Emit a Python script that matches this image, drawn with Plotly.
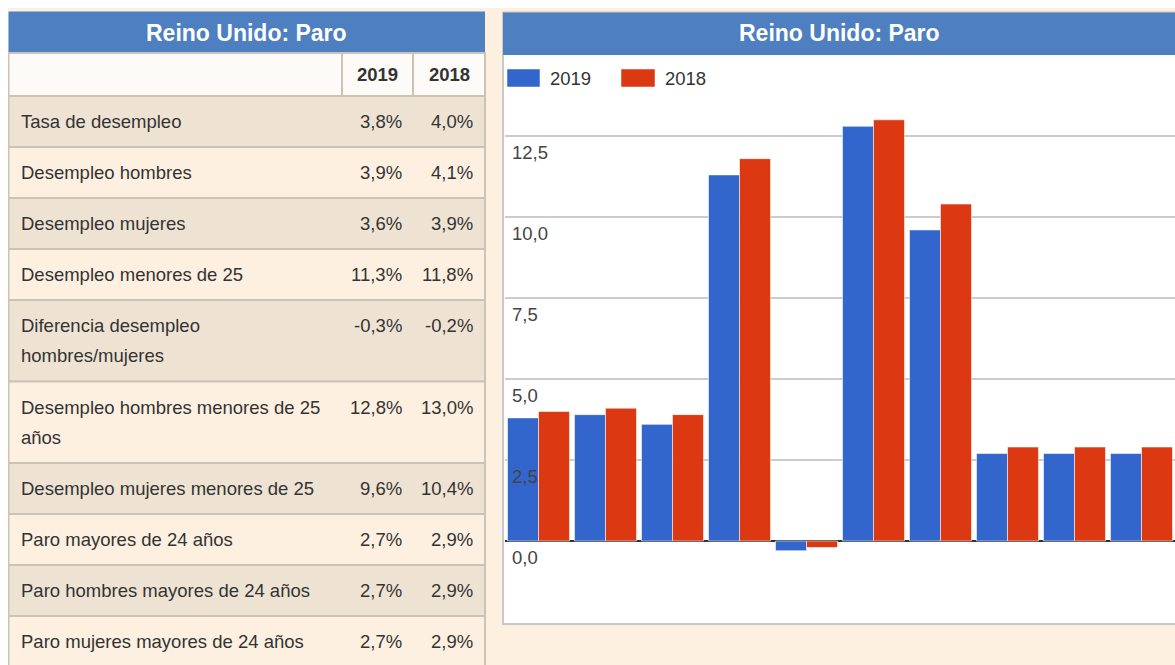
import plotly.graph_objects as go

# ---- data ----
title_text = "Reino Unido: Paro"
years = ["2019", "2018"]
row_labels = [
    "Tasa de desempleo",
    "Desempleo hombres",
    "Desempleo mujeres",
    "Desempleo menores de 25",
    "Diferencia desempleo<br>hombres/mujeres",
    "Desempleo hombres menores de 25<br>años",
    "Desempleo mujeres menores de 25",
    "Paro mayores de 24 años",
    "Paro hombres mayores de 24 años",
    "Paro mujeres mayores de 24 años",
]
vals_2019 = [3.8, 3.9, 3.6, 11.3, -0.3, 12.8, 9.6, 2.7, 2.7, 2.7]
vals_2018 = [4.0, 4.1, 3.9, 11.8, -0.2, 13.0, 10.4, 2.9, 2.9, 2.9]
y_ticks = [0, 2.5, 5.0, 7.5, 10.0, 12.5]

# ---- styling ----
OFF = 8                      # page body margin (left/top)
W, H = 1175 - OFF, 665 - OFF
BG = "#FDF0E0"
HEAD_BLUE = "#4E7FC0"
BEIGE = "#EEE3D3"
LINE = "#CBC3B8"
TXT = "#333333"
BLUE = "#3366CC"
RED = "#DC3912"
FONT = "Liberation Sans, Arial, sans-serif"
FS = 18.5


# screen pixel -> paper coords
def px(x):
    return (x - OFF) / W


def py(y):
    return 1 - (y - OFF) / H


def fmt(v):
    return f"{v:.1f}".replace(".", ",")


def note(x, y, text, size=FS, color=TXT, xanchor="left"):
    return dict(x=px(x), y=py(y), xref="paper", yref="paper", text=text, showarrow=False,
                font=dict(family=FONT, size=size, color=color), xanchor=xanchor, yanchor="middle")


def box(x0, x1, y0, y1, fill, line=None, layer="below"):
    return dict(type="rect", xref="paper", yref="paper", x0=px(x0), x1=px(x1), y0=py(y0), y1=py(y1),
                fillcolor=fill, line=line or dict(width=0), layer=layer)


cats = [l.replace("<br>", " ") for l in row_labels]
fig = go.Figure()
fig.add_trace(go.Bar(x=cats, y=vals_2019, name=years[0],
                     marker=dict(color=BLUE, line=dict(color="rgba(255,255,255,0.55)", width=1))))
fig.add_trace(go.Bar(x=cats, y=vals_2018, name=years[1],
                     marker=dict(color=RED, line=dict(color="rgba(255,255,255,0.55)", width=1))))

shapes = []
annots = []

# ---- left table ----
TL, TR = 8.5, 485
C1, C2 = 342, 413
shapes.append(box(TL, TR, 11.5, 53, HEAD_BLUE))
annots.append(note((TL + TR) / 2, 32.5, f"<b>{title_text}</b>", size=23, color="white", xanchor="center"))
shapes.append(box(TL, TR, 53, 96, "#FDFBF7", dict(color=LINE, width=2)))
for xc in (C1, C2):
    shapes.append(dict(type="line", xref="paper", yref="paper", x0=px(xc), x1=px(xc), y0=py(53), y1=py(96),
                       line=dict(color=LINE, width=2), layer="below"))
annots.append(note((C1 + C2) / 2, 75, f"<b>{years[0]}</b>", xanchor="center"))
annots.append(note((C2 + TR) / 2, 75, f"<b>{years[1]}</b>", xanchor="center"))

top = 96
for i, lab in enumerate(row_labels):
    lines = lab.split("<br>")
    h = 51 + 30.5 * (len(lines) - 1)
    shapes.append(box(TL, TR, top, top + h, BEIGE if i % 2 == 0 else BG, dict(color=LINE, width=2)))
    for k, ln in enumerate(lines):
        annots.append(note(19, top + 25.5 + 30 * k, ln))
    annots.append(note(404, top + 25.5, fmt(vals_2019[i]) + "%", xanchor="right"))
    annots.append(note(475, top + 25.5, fmt(vals_2018[i]) + "%", xanchor="right"))
    top += h

# ---- right chart panel ----
PL, PR = 503, 1177
shapes.append(box(PL, PR, 12.5, 624, "white", dict(color="#C8C8C8", width=2)))
shapes.append(box(PL, PR, 12.5, 55, HEAD_BLUE, layer="above"))
annots.append(note((PL + 1175) / 2, 33, f"<b>{title_text}</b>", size=23, color="white", xanchor="center"))
# legend
for (x0, x1, tx), col, yr in zip([(507, 540, 548), (621, 655, 663)], [BLUE, RED], years):
    shapes.append(box(x0, x1, 69, 87, col, dict(color="rgba(255,255,255,0.5)", width=1), layer="above"))
    annots.append(note(tx, 78, yr))

fig.update_layout(
    width=W, height=H,
    margin=dict(l=0, r=0, t=0, b=0),
    paper_bgcolor=BG,
    plot_bgcolor="rgba(0,0,0,0)",
    showlegend=False,
    barmode="group",
    bargap=0.075,
    bargroupgap=0.0,
    font=dict(family=FONT, size=FS, color=TXT),
    shapes=shapes,
    annotations=annots,
    xaxis=dict(domain=[px(505), 1.0], range=[-0.5, len(cats) - 0.5], showticklabels=False, showgrid=False,
               ticks="", showline=False, zeroline=False, fixedrange=True),
    yaxis=dict(domain=[py(622), py(55)], range=[-2.5, 15], tickvals=y_ticks,
               ticktext=[fmt(v) for v in y_ticks], showgrid=True, gridcolor="#CCCCCC", gridwidth=2,
               zeroline=True, zerolinecolor="#333333", zerolinewidth=2, showline=False,
               ticklabelposition="inside", ticklabelshift=17, ticklabelstandoff=4,
               tickfont=dict(family=FONT, size=FS, color="#444444"), fixedrange=True),
)

# keep the 8px left/top body margin but drop the right/bottom one so the figure reaches the window edge
fig.write_html("out.html", post_script="document.body.style.margin='8px 0 0 8px';"
                                       "document.body.style.overflow='hidden';")
